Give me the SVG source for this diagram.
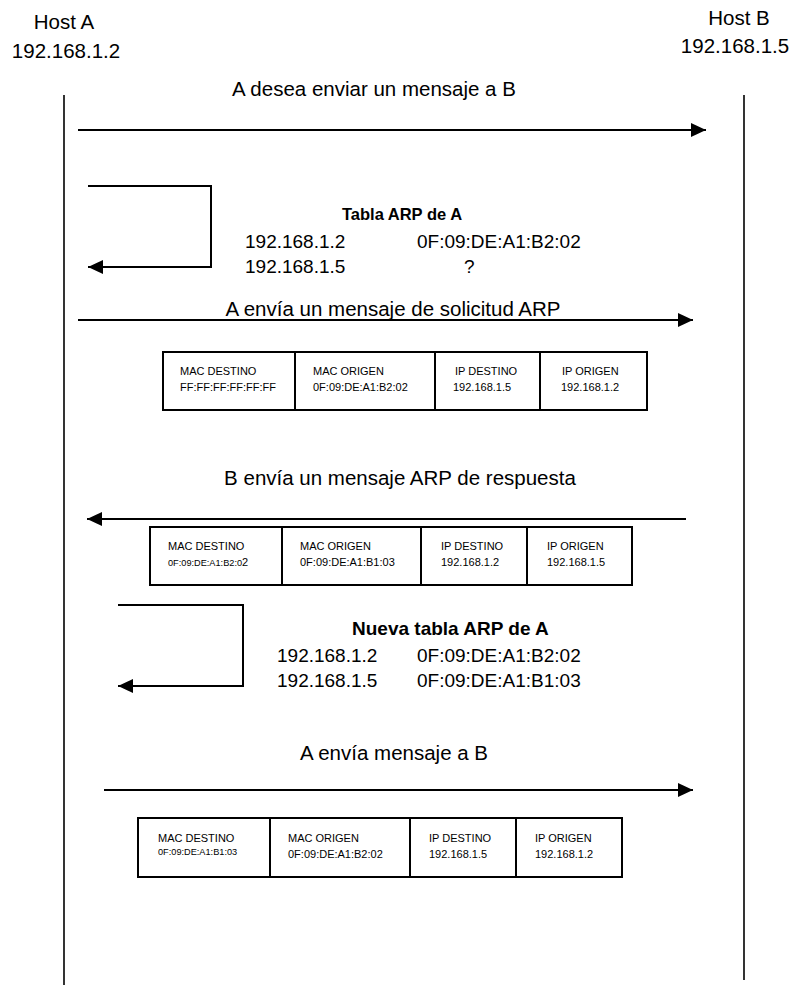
<svg xmlns="http://www.w3.org/2000/svg" width="792" height="985" viewBox="0 0 792 985">
<style>
  text { font-family: "Liberation Sans", Arial, sans-serif; fill: #000; }
  .lbl { font-size: 20.5px; }
  .tbl { font-size: 19px; }
  .bold { font-weight: bold; }
  .cell { font-size: 11px; }
  .tiny { font-size: 9.2px; }
  .life { stroke: #000; stroke-width: 1.6; fill: none; }
  .msg { stroke: #000; stroke-width: 2; fill: none; marker-end: url(#ah); }
  .box { stroke: #000; stroke-width: 2; fill: #fff; }
  .div { stroke: #000; stroke-width: 2; }
</style>
<defs>
  <marker id="ah" markerUnits="userSpaceOnUse" markerWidth="16" markerHeight="14" refX="15" refY="7" orient="auto">
    <path d="M0,0 L15,7 L0,14 Z" fill="#000"/>
  </marker>
</defs>
<rect width="792" height="985" fill="#fff"/>

<g id="hostA">
  <text class="lbl" x="64" y="29" text-anchor="middle">Host A</text>
  <text class="lbl" x="66" y="58" text-anchor="middle">192.168.1.2</text>
  <line class="life" x1="64" y1="95" x2="64" y2="985"/>
</g>
<g id="hostB">
  <text class="lbl" x="739" y="25" text-anchor="middle">Host B</text>
  <text class="lbl" x="735" y="53" text-anchor="middle">192.168.1.5</text>
  <line class="life" x1="744" y1="95" x2="744" y2="980"/>
</g>

<g id="connectors">
  <line class="msg" x1="78" y1="130" x2="706" y2="130"/>
  <polyline class="msg" points="88,186 211,186 211,267 88,267"/>
  <line class="msg" x1="78" y1="320" x2="693" y2="320"/>
  <line class="msg" x1="686" y1="519" x2="87" y2="519"/>
  <polyline class="msg" points="118,605 243,605 243,686 118,686"/>
  <line class="msg" x1="104" y1="790" x2="693" y2="790"/>
</g>

<g id="labels">
  <text class="lbl" x="374" y="96" text-anchor="middle">A desea enviar un mensaje a B</text>
  <text class="lbl" x="393" y="316" text-anchor="middle">A envía un mensaje de solicitud ARP</text>
  <text class="lbl" x="400" y="485" text-anchor="middle">B envía un mensaje ARP de respuesta</text>
  <text class="lbl" x="394" y="760" text-anchor="middle">A envía mensaje a B</text>
</g>

<g id="tablaA">
  <text class="bold" x="402" y="220" font-size="16.5" text-anchor="middle">Tabla ARP de A</text>
  <text class="tbl" x="245" y="248">192.168.1.2</text>
  <text class="tbl" x="417" y="248">0F:09:DE:A1:B2:02</text>
  <text class="tbl" x="245" y="273">192.168.1.5</text>
  <text class="tbl" x="464" y="273">?</text>
</g>

<g id="frame1">
  <rect class="box" x="163" y="352" width="484" height="58"/>
  <line class="div" x1="295" y1="352" x2="295" y2="410"/>
  <line class="div" x1="435" y1="352" x2="435" y2="410"/>
  <line class="div" x1="540" y1="352" x2="540" y2="410"/>
  <text class="cell" x="180" y="375">MAC DESTINO</text>
  <text class="cell" x="180" y="391">FF:FF:FF:FF:FF:FF</text>
  <text class="cell" x="313" y="375">MAC ORIGEN</text>
  <text class="cell" x="313" y="391">0F:09:DE:A1:B2:02</text>
  <text class="cell" x="455" y="375">IP DESTINO</text>
  <text class="cell" x="453" y="391">192.168.1.5</text>
  <text class="cell" x="562" y="375">IP ORIGEN</text>
  <text class="cell" x="561" y="391">192.168.1.2</text>
</g>

<g id="frame2">
  <rect class="box" x="150" y="527" width="482" height="58"/>
  <line class="div" x1="282" y1="527" x2="282" y2="585"/>
  <line class="div" x1="421" y1="527" x2="421" y2="585"/>
  <line class="div" x1="527" y1="527" x2="527" y2="585"/>
  <text class="cell" x="168" y="550">MAC DESTINO</text>
  <text x="168" y="566"><tspan class="tiny">0F:09:DE:A1:B2:0</tspan><tspan class="cell">2</tspan></text>
  <text class="cell" x="300" y="550">MAC ORIGEN</text>
  <text class="cell" x="300" y="566">0F:09:DE:A1:B1:03</text>
  <text class="cell" x="441" y="550">IP DESTINO</text>
  <text class="cell" x="441" y="566">192.168.1.2</text>
  <text class="cell" x="547" y="550">IP ORIGEN</text>
  <text class="cell" x="547" y="566">192.168.1.5</text>
</g>

<g id="tablaNueva">
  <text class="bold" x="352" y="635" font-size="19">Nueva tabla ARP de A</text>
  <text class="tbl" x="277" y="662">192.168.1.2</text>
  <text class="tbl" x="417" y="662">0F:09:DE:A1:B2:02</text>
  <text class="tbl" x="277" y="687">192.168.1.5</text>
  <text class="tbl" x="417" y="687">0F:09:DE:A1:B1:03</text>
</g>

<g id="frame3">
  <rect class="box" x="138" y="818" width="484" height="59"/>
  <line class="div" x1="270" y1="818" x2="270" y2="877"/>
  <line class="div" x1="410" y1="818" x2="410" y2="877"/>
  <line class="div" x1="516" y1="818" x2="516" y2="877"/>
  <text class="cell" x="158" y="842">MAC DESTINO</text>
  <text class="tiny" x="158" y="855">0F:09:DE:A1:B1:03</text>
  <text class="cell" x="288" y="842">MAC ORIGEN</text>
  <text class="cell" x="288" y="858">0F:09:DE:A1:B2:02</text>
  <text class="cell" x="429" y="842">IP DESTINO</text>
  <text class="cell" x="429" y="858">192.168.1.5</text>
  <text class="cell" x="535" y="842">IP ORIGEN</text>
  <text class="cell" x="535" y="858">192.168.1.2</text>
</g>
</svg>
